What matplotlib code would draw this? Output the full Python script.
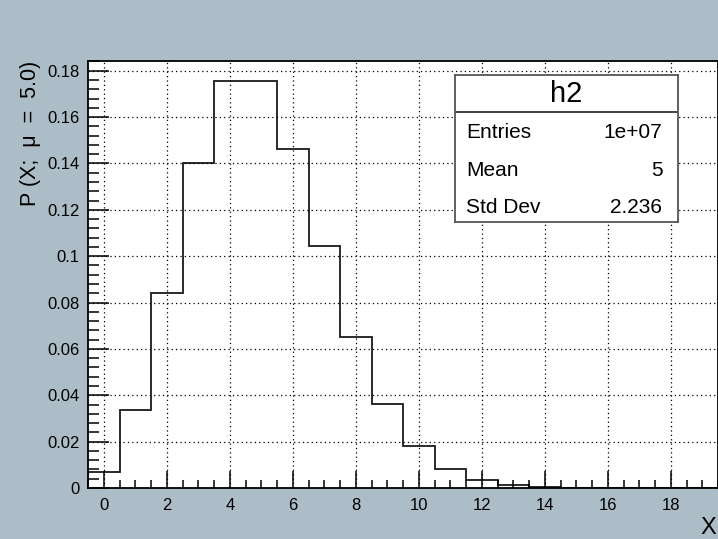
import matplotlib
matplotlib.use("Agg")
import matplotlib.pyplot as plt
from matplotlib.ticker import MultipleLocator
import numpy as np

# data
bin_edges = [-0.5 + i for i in range(21)]
values = [0.0067, 0.0337, 0.0842, 0.1404, 0.1755, 0.1755, 0.1462, 0.1044,
          0.0653, 0.0363, 0.0181, 0.0082, 0.0034, 0.0013, 0.0005, 0.00016,
          0.00005, 0.00001, 0.0, 0.0]
y_ticks = [0, 0.02, 0.04, 0.06, 0.08, 0.1, 0.12, 0.14, 0.16, 0.18]
y_ticklabels = ['0', '0.02', '0.04', '0.06', '0.08', '0.1', '0.12', '0.14', '0.16', '0.18']
stats_title = "h2"
stats_labels = ["Entries", "Mean", "Std Dev"]
stats_values = ["1e+07", "5", "2.236"]

plt.rcParams['font.family'] = ['Liberation Sans', 'DejaVu Sans']
bg = '#adbdc7'
W, H = 718, 539
fig = plt.figure(figsize=(W/100, H/100), dpi=100, facecolor=bg)
ax = fig.add_axes([88/W, 1-488/H, (718-88)/W, (488-61)/H])
ax.set_facecolor('white')

ax.stairs(values, bin_edges, color='#1a1a1a', linewidth=1.3)
ax.set_xlim(-0.5, 19.5)
ax.set_ylim(0, 0.1842)

ax.xaxis.set_major_locator(MultipleLocator(2))
ax.xaxis.set_minor_locator(MultipleLocator(0.5))
ax.yaxis.set_minor_locator(MultipleLocator(0.004))
ax.set_yticks(y_ticks)
ax.set_yticklabels(y_ticklabels)
ax.tick_params(which='both', direction='in', top=False, right=False, labelsize=12, colors='black')
ax.tick_params(axis='x', which='major', length=12, width=1.1, pad=7)
ax.tick_params(axis='x', which='minor', length=6, width=1.1)
ax.tick_params(axis='y', which='major', length=15, width=1.1, pad=6)
ax.tick_params(axis='y', which='minor', length=8, width=1.1)
ax.grid(True, which='major', color='black', linestyle=(0, (1, 2.5)), linewidth=0.9)
for s in ax.spines.values():
    s.set_linewidth(1.3)

fig.text(708/W, 1-528/H, "X", fontsize=17, ha='center', va='center')
fig.text(31/W, 1-133/H, "P (X;  \u03bc  =  5.0)", fontsize=15.5, rotation=90, ha='center', va='center')

# stats box
bx0, bx1, by0, by1 = 455, 678, 75, 222
box = fig.add_axes([bx0/W, 1-by1/H, (bx1-bx0)/W, (by1-by0)/H])
box.set_xlim(0, 1); box.set_ylim(0, 1)
box.set_xticks([]); box.set_yticks([])
box.set_facecolor('white')
for s in box.spines.values():
    s.set_color('#555555'); s.set_linewidth(1.3)
sep = 1 - (112-by0)/(by1-by0)
box.axhline(sep, color='#333333', linewidth=1.3)
box.text(0.5, (1+sep)/2, stats_title, fontsize=21, ha='center', va='center')
row_y = [132, 170, 207]
for lab, val, ry in zip(stats_labels, stats_values, row_y):
    yc = 1 - (ry - by0)/(by1-by0)
    box.text(0.05, yc, lab, fontsize=15, ha='left', va='center')
    box.text(0.93, yc, val, fontsize=15, ha='right', va='center')

fig.savefig("out.png", dpi=100, facecolor=bg)
